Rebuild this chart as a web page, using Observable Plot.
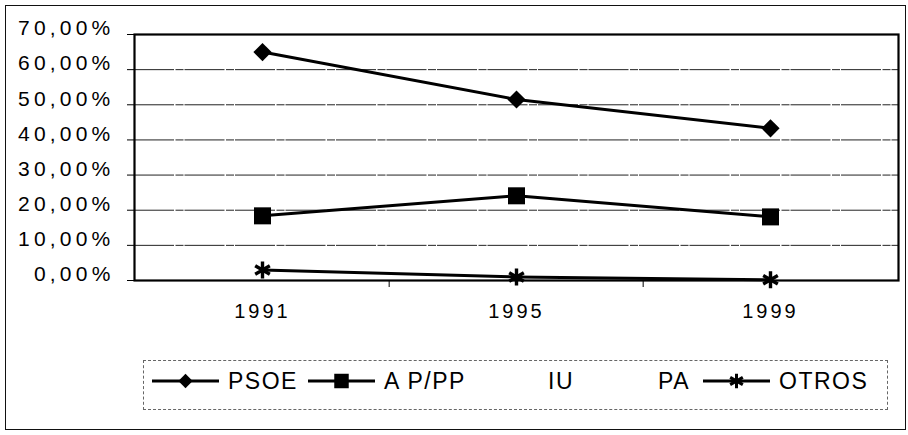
<!DOCTYPE html>
<html>
<head>
<meta charset="utf-8">
<script src="https://cdn.jsdelivr.net/npm/d3@7"></script>
<script src="https://cdn.jsdelivr.net/npm/@observablehq/plot@0.6"></script>
<style>
  body { margin: 0; background: #fff; }
  #wrap { position: relative; width: 908px; height: 435px; font-family: "Liberation Sans", Arial, sans-serif; color: #000; overflow: hidden; }
  #outer { position: absolute; left: 5px; top: 5px; width: 901px; height: 425px; border: 1.5px solid #111; box-sizing: border-box; pointer-events: none; }
  #legend { position: absolute; left: 143px; top: 360px; width: 745px; height: 50px; border: 1px dashed #666; box-sizing: border-box; }
  .item { position: absolute; top: 370px; height: 22px; display: flex; align-items: center; }
  .item span { font-size: 23px; letter-spacing: 1.5px; margin-left: 9px; line-height: 22px; }
  #chart { position: absolute; left: 0; top: 0; }
  #chart svg text { letter-spacing: 3px; }
  #chart svg g.ylab text { letter-spacing: 4.2px; }
</style>
</head>
<body>
<div id="wrap">
  <div id="chart"></div>
  <div id="legend"></div>
  <div id="outer"></div>
</div>
<script>
// ---- data ----
const years = ["1991", "1995", "1999"];
const psoe = [65.0, 51.5, 43.3];
const appp = [18.4, 24.1, 18.1];
const otros = [3.0, 1.0, 0.2];
const yTicks = [0, 10, 20, 30, 40, 50, 60, 70];
const legendNames = ["PSOE", "A P/PP", "IU", "PA", "OTROS"];

const series = [
  { name: "PSOE", values: psoe, symbol: "diamond2", r: 8.2, filled: true },
  { name: "A P/PP", values: appp, symbol: "square", r: 9.6, filled: true },
  { name: "OTROS", values: otros, symbol: "asterisk", r: 8.0, filled: false }
];

const W = 908, H = 435, ml = 134, mr = 10, mt = 34, mb = 155;
const step = (W - ml - mr) / years.length;
const fmt = d => d.toFixed(2).replace(".", ",") + "%";

const marks = [
  Plot.gridY(yTicks.slice(1, -1), { stroke: "#222", strokeOpacity: 1, strokeWidth: 1, strokeDasharray: "40,1.5,8,1" }),
  Plot.axisY(yTicks, { tickSize: 7, tickFormat: () => "", stroke: "#000", label: null }),
  Plot.axisY(yTicks, { tickSize: 0, tickPadding: 20, dy: -6, tickFormat: fmt, fontSize: 21, fill: "#000", label: null, className: "ylab" }),
  Plot.axisX(years, { tickSize: 0, tickPadding: 23, fontSize: 20, fill: "#000", label: null }),
  Plot.axisX(years.slice(1), { tickSize: 7, tickFormat: () => "", dx: -step / 2, stroke: "#000", label: null }),
  Plot.frame({ stroke: "#000", strokeWidth: 2.2 })
];

for (const s of series) {
  const rows = s.values.map((v, i) => ({ year: years[i], v }));
  marks.push(Plot.line(rows, { x: "year", y: "v", stroke: "#000", strokeWidth: 3 }));
  marks.push(Plot.dot(rows, s.filled
    ? { x: "year", y: "v", symbol: () => s.symbol, r: s.r, fill: "#000", stroke: "none" }
    : { x: "year", y: "v", symbol: () => s.symbol, r: s.r, fill: "none", stroke: "#000", strokeWidth: 3.4 }));
}

const chart = Plot.plot({
  width: W,
  height: H,
  marginLeft: ml,
  marginRight: mr,
  marginTop: mt,
  marginBottom: mb,
  style: { fontFamily: "'Liberation Sans', Arial, sans-serif", background: "transparent", color: "#000" },
  x: { type: "point", domain: years, padding: 0.5, axis: null, label: null },
  y: { domain: [0, 70], axis: null, label: null },
  symbol: { type: "identity" },
  marks
});
document.getElementById("chart").appendChild(chart);
// mark y tick labels group for letter-spacing
chart.querySelectorAll('g[aria-label="y-axis tick label"]').forEach(g => g.classList.add("ylab"));

// ---- legend (HTML, symbols drawn with d3.symbol) ----
const legendLeft = [152, 308, 472, 582, 703];
const symFor = {
  "PSOE": { type: d3.symbolDiamond2, size: 130, filled: true },
  "A P/PP": { type: d3.symbolSquare, size: 210, filled: true },
  "OTROS": { type: d3.symbolAsterisk, size: 150, filled: false }
};
const wrap = document.getElementById("wrap");
legendNames.forEach((name, i) => {
  const item = document.createElement("div");
  item.className = "item";
  item.style.left = legendLeft[i] + "px";
  const sw = 67, sh = 22;
  const svg = d3.create("svg").attr("width", sw).attr("height", sh);
  const sym = symFor[name];
  if (sym) {
    svg.append("line").attr("x1", 0).attr("x2", sw).attr("y1", sh / 2).attr("y2", sh / 2)
      .attr("stroke", "#000").attr("stroke-width", 3);
    svg.append("path").attr("d", d3.symbol(sym.type, sym.size)())
      .attr("transform", `translate(${sw / 2},${sh / 2})`)
      .attr("fill", sym.filled ? "#000" : "none")
      .attr("stroke", sym.filled ? "none" : "#000")
      .attr("stroke-width", 3);
  }
  item.appendChild(svg.node());
  const t = document.createElement("span");
  t.textContent = name;
  item.appendChild(t);
  wrap.appendChild(item);
});
</script>
</body>
</html>
